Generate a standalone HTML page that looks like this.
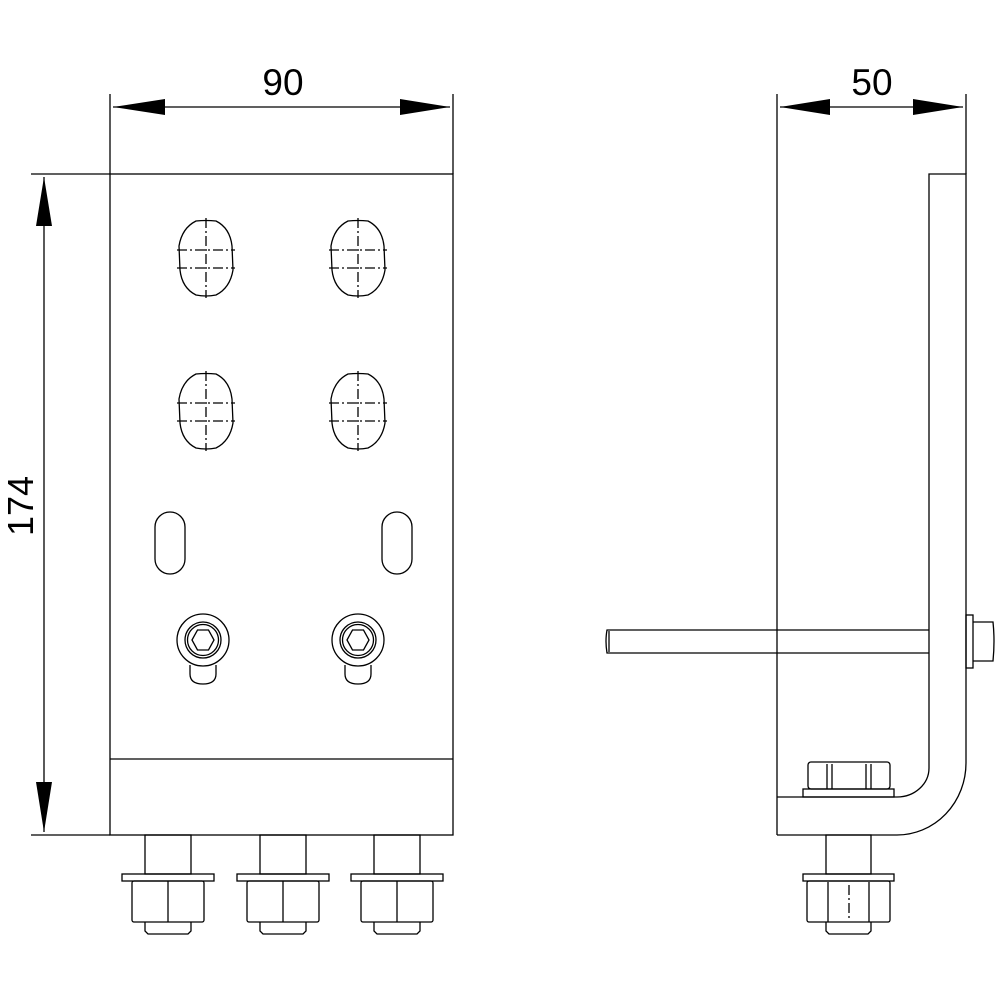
<!DOCTYPE html>
<html><head><meta charset="utf-8"><style>html,body{margin:0;padding:0;background:#fff}svg{display:block}</style></head>
<body>
<svg width="1000" height="1000" viewBox="0 0 1000 1000" xmlns="http://www.w3.org/2000/svg" fill="none" stroke="#000" stroke-width="1.3">
<defs>
<g id="oval">
  <path d="M-10,-37 Q0,-38 10,-37 Q24,-30 26,-12 L27,12 Q24,30 10,37 Q0,39 -10,37 Q-24,30 -26,12 L-27,-12 Q-24,-30 -10,-37 Z"/>
  <g stroke-dasharray="10,3,2,3">
    <line x1="0" y1="-40" x2="0" y2="40"/>
    <line x1="-29" y1="-8" x2="29" y2="-8"/>
    <line x1="-29" y1="10" x2="29" y2="10"/>
  </g>
</g>
<g id="slot"><rect x="-15" y="-31" width="30" height="62" rx="15"/></g>
<g id="bolt">
  <path d="M-13,25 L-13,34 Q-13,44 0,44 Q13,44 13,34 L13,25"/>
  <circle r="26" fill="#fff"/>
  <circle r="18"/><circle r="15.5"/>
  <polygon points="-11,0 -5.5,-10 5.5,-10 11,0 5.5,10 -5.5,10"/>
</g>
<g id="stud">
  <rect x="-23" y="0" width="46" height="39"/>
  <rect x="-46" y="39" width="92" height="7"/>
  <rect x="-36" y="46" width="72" height="41" rx="2"/>
  <line x1="0" y1="46" x2="0" y2="87"/>
  <path d="M-23,87 L-23,96 L-20,99 L20,99 L23,96 L23,87"/>
</g>
</defs>

<!-- FRONT VIEW -->
<rect x="110" y="174" width="343" height="661"/>
<line x1="110" y1="759" x2="453" y2="759"/>
<!-- dims -->
<line x1="110" y1="94" x2="110" y2="174"/>
<line x1="453" y1="94" x2="453" y2="174"/>
<line x1="113" y1="107" x2="450" y2="107"/>
<polygon points="113,107 165,99 165,115" fill="#000" stroke="none"/>
<polygon points="450,107 400,99 400,115" fill="#000" stroke="none"/>
<text x="283" y="95" font-family="Liberation Sans, sans-serif" font-size="37" text-anchor="middle" fill="#000" stroke="none" font-weight="300">90</text>
<line x1="31" y1="174" x2="110" y2="174"/>
<line x1="31" y1="835" x2="110" y2="835"/>
<line x1="44" y1="177" x2="44" y2="832"/>
<polygon points="44,177 36,226 52,226" fill="#000" stroke="none"/>
<polygon points="44,832 36,782 52,782" fill="#000" stroke="none"/>
<text transform="translate(33,506) rotate(-90)" font-family="Liberation Sans, sans-serif" font-size="36" text-anchor="middle" fill="#000" stroke="none">174</text>

<use href="#oval" x="206" y="258"/>
<use href="#oval" x="358" y="258"/>
<use href="#oval" x="206" y="411"/>
<use href="#oval" x="358" y="411"/>
<use href="#slot" x="170" y="543"/>
<use href="#slot" x="397" y="543"/>
<use href="#bolt" x="203" y="640"/>
<use href="#bolt" x="358" y="640"/>
<use href="#stud" x="168" y="835"/>
<use href="#stud" x="283" y="835"/>
<use href="#stud" x="397" y="835"/>

<!-- SIDE VIEW -->
<line x1="777" y1="94" x2="777" y2="835"/>
<line x1="966" y1="94" x2="966" y2="174"/>
<line x1="780" y1="107" x2="963" y2="107"/>
<polygon points="780,107 830,99 830,115" fill="#000" stroke="none"/>
<polygon points="963,107 913,99 913,115" fill="#000" stroke="none"/>
<text x="872" y="95" font-family="Liberation Sans, sans-serif" font-size="37" text-anchor="middle" fill="#000" stroke="none">50</text>
<path d="M777,835 L897,835 A69,72 0 0 0 966,763 L966,174 L929,174 L929,768 A32,29 0 0 1 897,797 L777,797"/>
<!-- rod -->
<path d="M929,630 L607,630 Q605,641 607,653 L929,653"/>
<line x1="609" y1="631" x2="609" y2="652"/>
<rect x="966" y="615" width="7" height="53"/>
<path d="M973,622 L993,622 Q995,641 993,661 L973,661"/>
<!-- inner nut -->
<rect x="803" y="789" width="91" height="8"/>
<rect x="808" y="762" width="82" height="27" rx="3"/>
<line x1="827" y1="764" x2="827" y2="789"/><line x1="832" y1="764" x2="832" y2="789"/>
<line x1="866" y1="764" x2="866" y2="789"/><line x1="871" y1="764" x2="871" y2="789"/>
<!-- bottom stud -->
<rect x="826" y="835" width="45" height="39"/>
<rect x="803" y="874" width="91" height="7"/>
<rect x="807" y="881" width="83" height="41" rx="2"/>
<line x1="828" y1="882" x2="828" y2="922"/><line x1="869" y1="882" x2="869" y2="922"/>
<line x1="849" y1="885" x2="849" y2="920" stroke-dasharray="10,3,2,3"/>
<path d="M826,922 L826,931 L829,934 L868,934 L871,931 L871,922"/>
</svg>
</body></html>
